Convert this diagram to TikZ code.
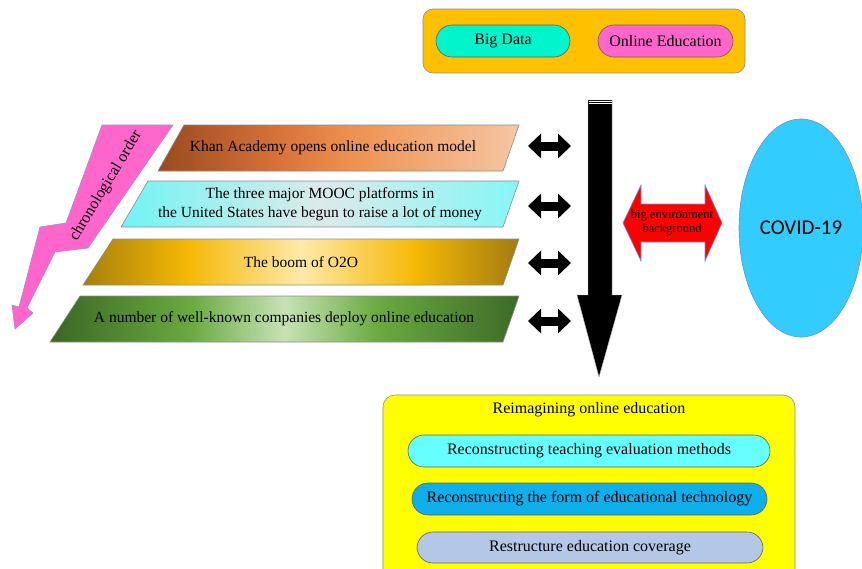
\documentclass[tikz,border=0pt]{standalone}
\usepackage{fontspec}
\setmainfont{Liberation Serif}
\newfontfamily\covidfont{Carlito}
\usetikzlibrary{arrows.meta,shapes.geometric}

% colours
\definecolor{topor}{HTML}{FFC000}
\definecolor{bigdata}{HTML}{00F5CC}
\definecolor{onlineed}{HTML}{FF66CC}
\definecolor{chrono}{HTML}{FF66CC}
\definecolor{chronoline}{HTML}{A58AD0}
\definecolor{covid}{HTML}{33CCFF}
\definecolor{covidline}{HTML}{6F8FD0}
\definecolor{goal}{HTML}{FFFF00}
\definecolor{teach}{HTML}{66FFFF}
\definecolor{tech}{HTML}{0FAFEB}
\definecolor{cover}{HTML}{B4C7E7}
\definecolor{edge}{HTML}{8C8C8C}
\definecolor{khanA}{HTML}{9A4A1E}
\definecolor{khanB}{HTML}{D9733A}
\definecolor{khanC}{HTML}{EE9250}
\definecolor{khanD}{HTML}{F5C6A4}
\definecolor{moocA}{HTML}{70F4F4}
\definecolor{moocB}{HTML}{DCEAEA}
\definecolor{moocC}{HTML}{86F6F6}
\definecolor{ozoA}{HTML}{A77F0C}
\definecolor{ozoB}{HTML}{F5B905}
\definecolor{ozoC}{HTML}{FFE9A8}
\definecolor{ozoD}{HTML}{A27C10}
\definecolor{grnA}{HTML}{3A6623}
\definecolor{grnB}{HTML}{6AAA40}
\definecolor{grnC}{HTML}{C7E2B6}
\definecolor{grnD}{HTML}{3D6A26}

% horizontal fills of the four milestone bands
% (TikZ fits a path's bounding box to the 25bp..75bp part of a shading)
\pgfdeclarehorizontalshading{khanshade}{100bp}{color(0bp)=(khanA); color(25bp)=(khanA); color(42bp)=(khanB); color(52bp)=(khanC); color(75bp)=(khanD); color(100bp)=(khanD)}
\pgfdeclarehorizontalshading{moocshade}{100bp}{color(0bp)=(moocA); color(25bp)=(moocA); color(50bp)=(moocB); color(75bp)=(moocC); color(100bp)=(moocC)}
\pgfdeclarehorizontalshading{ozoshade}{100bp}{color(0bp)=(ozoA); color(25bp)=(ozoA); color(37bp)=(ozoB); color(50bp)=(ozoC); color(63bp)=(ozoB); color(75bp)=(ozoD); color(100bp)=(ozoD)}
\pgfdeclarehorizontalshading{grnshade}{100bp}{color(0bp)=(grnA); color(25bp)=(grnA); color(40bp)=(grnB); color(50bp)=(grnC); color(60bp)=(grnB); color(75bp)=(grnD); color(100bp)=(grnD)}

\tikzset{
  pill/.style={draw=edge!70!black, line width=0.6pt, rounded corners=16pt,
    minimum height=32pt, inner sep=0pt, font=\fontsize{16}{19}\selectfont},
  band/.style={shade, draw=edge, line width=0.6pt},
  bandtext/.style={inner sep=0pt, align=center, font=\fontsize{15.5}{19}\selectfont},
  dblarrow/.style={line width=9pt,
    {Triangle[length=13pt,width=24pt]}-{Triangle[length=13pt,width=24pt]}},
}

\begin{document}
\begin{tikzpicture}[x=1pt,y=-1pt]
\useasboundingbox (0,0) rectangle (862,568);

% top box: the two driving forces
\node[draw=edge, fill=topor, line width=0.6pt, rounded corners=10pt,
      minimum width=322pt, minimum height=64pt, inner sep=0pt] (drivers) at (584,41) {};
\node[pill, fill=bigdata, minimum width=134pt] (bigdata) at (503,41) {Big Data};
\node[pill, fill=onlineed, minimum width=135pt] (online) at (665.5,41) {Online Education};

% chronological lightning arrow
\path[fill=chrono, draw=chronoline, line width=0.6pt]
  (102,125) -- (173,125) -- (88,248) -- (55,252) -- (27,308) -- (33,313)
  -- (15,329) -- (12,305) -- (19,307) -- (40,227) -- (66,223) -- cycle;
\node[rotate=59, inner sep=0pt, font=\fontsize{16}{19}\selectfont] (chrono) at (106,186) {chronological order};

% milestone bands
\path[band, shading=khanshade] (184,125) -- (519,125) -- (503,171) -- (158,171) -- cycle;
\node[bandtext] (khan) at (333,148) {Khan Academy opens online education model};

\path[band, shading=moocshade] (148,181) -- (519,181) -- (503,227) -- (121,227) -- cycle;
\node[bandtext] (mooc) at (320,204) {The three major MOOC platforms in\\the United States have begun to raise a lot of money};

\path[band, shading=ozoshade] (113,239) -- (519,239) -- (503,285) -- (83,285) -- cycle;
\node[bandtext] (ozo) at (301,262) {The boom of O2O};

\path[band, shading=grnshade] (80,296) -- (519,296) -- (503,342) -- (50,342) -- cycle;
\node[bandtext] (deploy) at (284,319) {A number of well-known companies deploy online education};

% links between the bands and the main flow
\coordinate (d1a) at (528,146); \coordinate (d1b) at (571,146);
\coordinate (d2a) at (528,206); \coordinate (d2b) at (571,206);
\coordinate (d3a) at (528,263); \coordinate (d3b) at (571,263);
\coordinate (d4a) at (528,321); \coordinate (d4b) at (571,321);
\draw[dblarrow] (d1a) -- (d1b);
\draw[dblarrow] (d2a) -- (d2b);
\draw[dblarrow] (d3a) -- (d3b);
\draw[dblarrow] (d4a) -- (d4b);

% main downward flow (striped top)
\path[fill=black, draw=edge!60, line width=0.4pt]
  (588,100) -- (612,100) -- (612,295) -- (622,295) -- (599,377) -- (577,295) -- (588,295) -- cycle;
\draw[white, line width=0.9pt] (588.5,101.6) -- (611.5,101.6);
\draw[white, line width=0.9pt] (588.5,103.8) -- (611.5,103.8);

% environment arrow
\path[fill=red, draw=covidline, line width=0.6pt]
  (623,223) -- (641,185) -- (641,204) -- (705,204) -- (705,185) -- (722,223)
  -- (705,261) -- (705,242) -- (641,242) -- (641,261) -- cycle;
\node[inner sep=0pt, align=center, font=\fontsize{12.5}{14}\selectfont] (envtext) at (672,223)
  {big environment\\background};

% COVID-19
\node[ellipse, fill=covid, draw=covidline, line width=0.6pt, minimum width=124pt,
      minimum height=218pt, inner sep=0pt, font=\covidfont\fontsize{21}{25}\selectfont]
      (covid) at (801,228) {COVID-19};

% outcome box
\node[draw=edge, fill=goal, line width=0.6pt, rounded corners=12pt,
      minimum width=412pt, minimum height=190pt, inner sep=0pt] (goal) at (589,490) {};
\node[inner sep=0pt, font=\fontsize{16}{19}\selectfont] (goaltitle) at (589,410) {Reimagining online education};
\node[pill, fill=teach, minimum width=362pt] (teach) at (589,451) {Reconstructing teaching evaluation methods};
\node[pill, fill=tech, minimum width=355pt] (tech) at (589.5,499) {Reconstructing the form of educational technology};
\node[pill, fill=cover, minimum width=346pt, minimum height=31pt] (cover) at (590,547.5) {Restructure education coverage};
\end{tikzpicture}
\end{document}
